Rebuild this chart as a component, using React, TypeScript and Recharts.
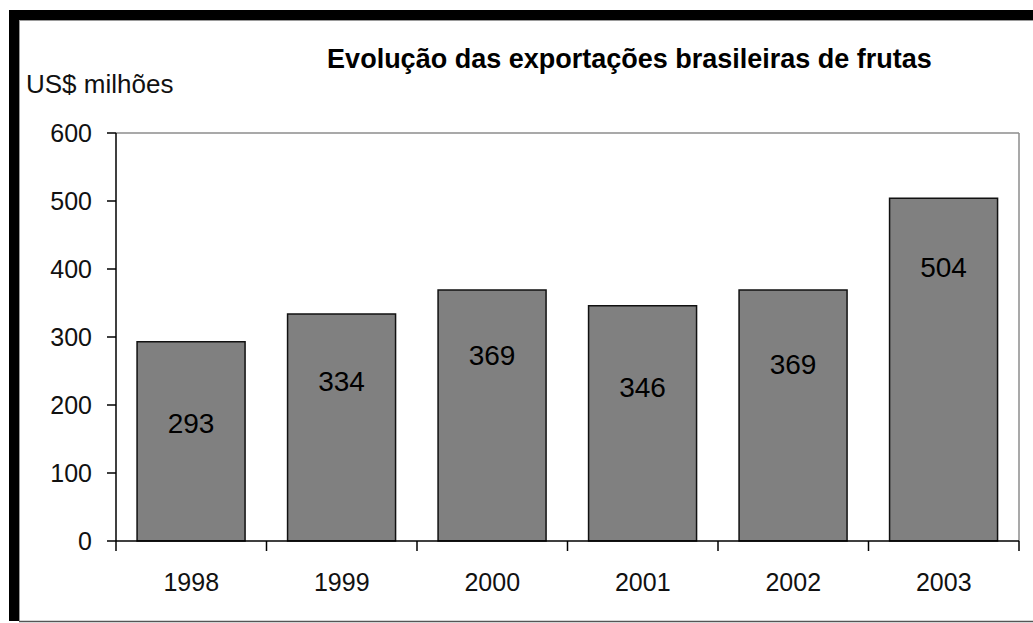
import { BarChart, Bar, XAxis, YAxis, LabelList, CartesianGrid } from 'recharts';

const years = ['1998', '1999', '2000', '2001', '2002', '2003'];
const exportValues = [293, 334, 369, 346, 369, 504];
const yTicks = [0, 100, 200, 300, 400, 500, 600];

// where each value label sits below the top of its bar (px), as in the picture
const labelDrop = [82, 68, 65, 82, 74, 69];

const W = 1033;
const H = 623;
const margin = { top: 133, right: 14, bottom: 42, left: 16 };
const Y_AXIS_W = 100;
const X_AXIS_H = 40;
const plotWidth = W - margin.left - margin.right - Y_AXIS_W;
const halfBand = plotWidth / years.length / 2;

const font = '"Liberation Sans", Arial, sans-serif';

const data = years.map((year, i) => ({ year, value: exportValues[i] }));

function YearTick(props: any) {
  const { x, y, payload, index } = props;
  const last = index === years.length - 1;
  return (
    <g>
      <line x1={x - halfBand} x2={x - halfBand} y1={y} y2={y + 10} stroke="#000" strokeWidth={1.5} />
      {last && (
        <line x1={x + halfBand} x2={x + halfBand} y1={y} y2={y + 10} stroke="#000" strokeWidth={1.5} />
      )}
      <text x={x} y={y + 50} textAnchor="middle" fontFamily={font} fontSize={25} fill="#111">
        {payload.value}
      </text>
    </g>
  );
}

function ValueLabel(props: any) {
  const { x, y, width, value, index } = props;
  return (
    <text
      x={x + width / 2}
      y={y + labelDrop[index]}
      textAnchor="middle"
      dominantBaseline="central"
      fontFamily={font}
      fontSize={28}
      fill="#000"
    >
      {value}
    </text>
  );
}

export default function App() {
  return (
    <div style={{ position: 'fixed', left: 0, top: 0, width: W, height: H, background: '#fff' }}>
      <BarChart
        width={W}
        height={H}
        data={data}
        margin={margin}
        barCategoryGap="14%"
        style={{ position: 'absolute', left: 0, top: 0 }}
      >
        {/* plot frame: grey top and right edges */}
        <CartesianGrid
          stroke="#8c8c8c"
          strokeWidth={1.5}
          horizontalCoordinatesGenerator={({ offset }: any) => [offset.top]}
          verticalCoordinatesGenerator={({ offset }: any) => [offset.left + offset.width]}
        />
        <XAxis
          dataKey="year"
          height={X_AXIS_H}
          interval={0}
          tickSize={0}
          tickMargin={0}
          tickLine={false}
          axisLine={{ stroke: '#000', strokeWidth: 1.5 }}
          tick={<YearTick />}
        />
        <YAxis
          width={Y_AXIS_W}
          domain={[0, 600]}
          ticks={yTicks}
          interval={0}
          tickSize={9}
          tickMargin={15}
          axisLine={{ stroke: '#000', strokeWidth: 1.5 }}
          tickLine={{ stroke: '#000', strokeWidth: 1.5 }}
          tick={{ fontFamily: font, fontSize: 25, fill: '#111' }}
        />
        <Bar dataKey="value" fill="#808080" stroke="#111" strokeWidth={1.5} isAnimationActive={false}>
          <LabelList dataKey="value" content={<ValueLabel />} />
        </Bar>
      </BarChart>

      <svg width={W} height={H} style={{ position: 'absolute', left: 0, top: 0, pointerEvents: 'none' }}>
        <rect x={9} y={10} width={W - 9} height={10} fill="#000" />
        <rect x={9} y={10} width={10} height={611} fill="#000" />
        <line x1={19} x2={W} y1={20.5} y2={20.5} stroke="#9a9a9a" strokeWidth={1} />
        <line x1={19.5} x2={19.5} y1={20} y2={621} stroke="#9a9a9a" strokeWidth={1} />
        <line x1={19} x2={W} y1={621.5} y2={621.5} stroke="#555" strokeWidth={1.5} />
        <text x={629.5} y={68} textAnchor="middle" fontFamily={font} fontWeight="bold" fontSize={27} fill="#000">
          Evolução das exportações brasileiras de frutas
        </text>
        <text x={26} y={93} fontFamily={font} fontSize={26} fill="#111">
          US$ milhões
        </text>
      </svg>
    </div>
  );
}
